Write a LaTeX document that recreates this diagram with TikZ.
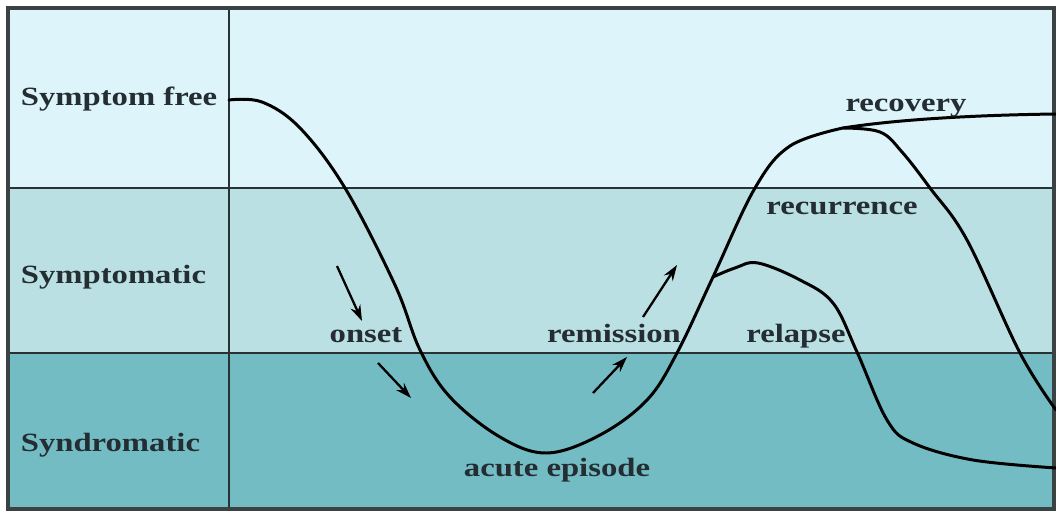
\documentclass[tikz,border=0pt]{standalone}
\usepackage{fontspec}
\setmainfont{Liberation Serif}
\usetikzlibrary{arrows.meta}
\definecolor{freeband}{RGB}{221,245,250}
\definecolor{symptband}{RGB}{187,224,228}
\definecolor{syndband}{RGB}{115,188,196}
\definecolor{gridline}{RGB}{40,50,52}
\definecolor{lbltext}{RGB}{35,45,50}
\newcommand{\wide}[1]{\scalebox{1.24}[1]{#1}}
\tikzset{
  lbl/.style={font=\fontsize{15}{17}\selectfont\bfseries, text=lbltext, inner sep=0pt, anchor=base},
  course/.style={line width=1.7pt, line cap=round},
  hint/.style={->, line width=1.3pt}
}
\begin{document}
\begin{tikzpicture}[x=0.02cm, y=-0.02cm, >={Stealth[length=9pt,width=6pt]}, line width=1pt]
  \useasboundingbox[fill=white] (0,0) rectangle (1056,513);
  % bands
  \fill[freeband]  (8,8)   rectangle (1054,188);
  \fill[symptband] (8,188) rectangle (1054,353);
  \fill[syndband]  (8,353) rectangle (1054,509);
  \draw[gridline] (8,188) -- (1054,188);
  \draw[gridline] (8,353) -- (1054,353);
  \draw[gridline, line width=1.2pt] (229,8) -- (229,509);
  \draw[gridline!80!gray, line width=2.2pt] (8,8) rectangle (1054,509);
  % state labels
  \node[lbl, anchor=base west] (free) at (20,106) {\wide{Symptom free}};
  \node[lbl, anchor=base west] (sympt) at (20,284) {\wide{Symptomatic}};
  \node[lbl, anchor=base west] (synd) at (20,452) {\wide{Syndromatic}};
  % course of illness
  \coordinate (start) at (229,100);
  \coordinate (split) at (713,277);
  \coordinate (top) at (843,128);
  \draw[course] plot[smooth, tension=0.6] coordinates {(229,100) (262,102) (300,128) (345,188) (395,285) (420,350) (450,397) (500,437) (547,453) (600,435) (647,400) (677,353) (713,277) (755,188) (790,146) (843,128)};
  \draw[course] (top) .. controls (900,119) and (980,115) .. (1056,114);
  \draw[course] plot[smooth, tension=0.6] coordinates {(843,128) (880,132) (902,152) (930,188) (967,240) (1020,353) (1056,410)};
  \draw[course] plot[smooth, tension=0.6] coordinates {(713,277) (735,268) (758,263) (800,280) (833,303) (857,352) (887,420) (913,443) (973,460) (1056,468)};
  % labels along the curve
  \node[lbl] (onset) at (366,343) {\wide{onset}};
  \node[lbl] (remission) at (614,343) {\wide{remission}};
  \node[lbl] (relapse) at (796,343) {\wide{relapse}};
  \node[lbl] (recovery) at (906,112) {\wide{recovery}};
  \node[lbl] (recurrence) at (842,215) {\wide{recurrence}};
  \node[lbl] (acute) at (557,477) {\wide{acute episode}};
  % direction arrows
  \coordinate (on1) at (337,266);   \coordinate (on2) at (362,321);
  \coordinate (on3) at (378,363);   \coordinate (on4) at (411,398);
  \coordinate (rem1) at (593,393);  \coordinate (rem2) at (627,357);
  \coordinate (rem3) at (643,317);  \coordinate (rem4) at (677,265);
  \draw[hint] (on1) -- (on2);
  \draw[hint] (on3) -- (on4);
  \draw[hint] (rem1) -- (rem2);
  \draw[hint] (rem3) -- (rem4);
\end{tikzpicture}
\end{document}
